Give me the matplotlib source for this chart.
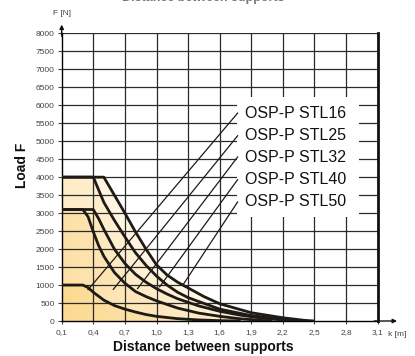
import numpy as np
import matplotlib.pyplot as plt
from matplotlib.patches import Rectangle

plt.rcParams['font.family'] = ['Liberation Sans', 'DejaVu Sans']

x_ticks = [0.1, 0.4, 0.7, 1.0, 1.3, 1.6, 1.9, 2.2, 2.5, 2.8, 3.1]
x_labels = ["0,1", "0,4", "0,7", "1,0", "1,3", "1,6", "1,9", "2,2", "2,5", "2,8", "3,1"]
y_ticks = list(range(0, 8001, 500))

names = ["OSP-P STL16", "OSP-P STL25", "OSP-P STL32", "OSP-P STL40", "OSP-P STL50"]

stl16_x = [0.1, 0.3, 0.35, 0.4, 0.5, 0.6, 0.7, 0.8, 0.9, 1.0, 1.2, 1.4, 1.6, 1.8]
stl16_y = [1000, 1000, 930, 800, 580, 430, 330, 250, 180, 130, 65, 30, 10, 0]

stl25_x = [0.1, 0.3, 0.35, 0.4, 0.45, 0.5, 0.6, 0.7, 0.8, 0.9, 1.0, 1.2, 1.4, 1.6, 1.8, 2.0, 2.1]
stl25_y = [3100, 3100, 2900, 2480, 2100, 1800, 1350, 1050, 820, 680, 560, 360, 220, 130, 60, 15, 0]

stl32_x = [0.1, 0.4, 0.45, 0.5, 0.6, 0.7, 0.8, 0.9, 1.0, 1.1, 1.2, 1.4, 1.6, 1.8, 2.0, 2.2, 2.3]
stl32_y = [3100, 3100, 2850, 2550, 2000, 1600, 1300, 1080, 900, 750, 620, 420, 270, 160, 80, 25, 0]

stl40_x = [0.1, 0.4, 0.5, 0.6, 0.7, 0.8, 0.9, 1.0, 1.1, 1.2, 1.3, 1.6, 1.9, 2.2, 2.4]
stl40_y = [4000, 4000, 3300, 2800, 2340, 1900, 1550, 1250, 1000, 800, 650, 330, 150, 50, 0]

stl50_x = [0.1, 0.5, 0.6, 0.7, 0.8, 0.9, 1.0, 1.1, 1.2, 1.3, 1.45, 1.6, 1.9, 2.2, 2.4, 2.5]
stl50_y = [4000, 4000, 3500, 3000, 2480, 2000, 1560, 1280, 1080, 920, 680, 480, 230, 90, 20, 0]

# leader line ends and label rows
leader_end_x = [0.35, 0.59, 0.82, 1.03, 1.25]
leader_end_y = [870, 880, 900, 950, 1000]
label_y = [5780, 5150, 4560, 3930, 3310]

curves = [(stl16_x, stl16_y), (stl25_x, stl25_y), (stl32_x, stl32_y),
          (stl40_x, stl40_y), (stl50_x, stl50_y)]
fills = ["#fcd98f", "#fde0a6", "#fee6b6", "#feecc6", "#fff3da"]

fig = plt.figure(figsize=(4.15, 3.56), dpi=100)
ax = fig.add_axes([0.1487, 0.0983, 0.7614, 0.8082])

# stacked fills, largest first
for (cx, cy), col in reversed(list(zip(curves, fills))):
    ax.fill_between(cx, 0, cy, color=col, lw=0, zorder=1)

# fade to the right
big = ax.fill_between(stl50_x, 0, stl50_y, color="none", lw=0)
grad = np.linspace(0, 1, 256).reshape(1, -1) ** 0.8
im = ax.imshow(np.dstack([np.ones((1, 256, 3)), grad[..., None] * 0.55]),
               extent=[0.1, 2.5, 0, 4000], aspect="auto", zorder=1.5)
im.set_clip_path(big.get_paths()[0], transform=ax.transData)
ax.set_xlim(0.1, 3.1)
ax.set_ylim(0, 8000)

for xv in x_ticks[1:]:
    ax.axvline(xv, color="#2a2a2a", lw=0.9, zorder=2)
for yv in y_ticks[1:]:
    ax.axhline(yv, color="#2a2a2a", lw=0.9, zorder=2)

# white label panel
ax.add_patch(Rectangle((1.765, 2890), 1.16, 3340, facecolor="white",
                       edgecolor="none", zorder=3))

for (cx, cy) in curves:
    ax.plot(cx, cy, color="#1e1a17", lw=2.0, zorder=5, solid_capstyle="butt")

for name, ex, ey, ly in zip(names, leader_end_x, leader_end_y, label_y):
    ax.plot([ex, 1.77], [ey, ly], color="#1e1a17", lw=0.9, zorder=4)
    ax.text(1.84, ly, name, fontsize=11.5, va="center", ha="left",
            color="#111111", zorder=6)

ax.set_xticks(x_ticks)
ax.set_xticklabels(x_labels)
ax.set_yticks(y_ticks)
ax.set_yticklabels([str(v) for v in y_ticks])
ax.tick_params(axis="both", labelsize=6, labelcolor="#444444", length=3,
               width=0.8, color="#444444", pad=2)
ax.tick_params(axis="x", length=2, pad=4)

ax.spines["top"].set_visible(False)
ax.spines["left"].set_linewidth(1.0)
ax.spines["bottom"].set_linewidth(1.0)
ax.spines["right"].set_linewidth(2.0)
ax.spines["right"].set_color("#111111")

# axis arrows
ax.annotate("", xy=(0, 1.04), xytext=(0, 0.98), xycoords="axes fraction",
            arrowprops=dict(arrowstyle="-|>", color="#111111", lw=1.0,
                            mutation_scale=6), annotation_clip=False)
ax.annotate("", xy=(1.07, 0), xytext=(0.98, 0), xycoords="axes fraction",
            arrowprops=dict(arrowstyle="-|>", color="#111111", lw=1.0,
                            mutation_scale=6), annotation_clip=False)

ax.text(0.0, 1.058, "F [N]", transform=ax.transAxes, fontsize=6,
        color="#444444", ha="center", va="bottom")
ax.text(1.032, -0.036, "k [m]", transform=ax.transAxes, fontsize=6,
        color="#444444", ha="left", va="top")

fig.text(0.053, 0.535, "Load F", rotation=90, fontsize=10, fontweight="bold",
         ha="center", va="center", color="#111111")
fig.text(0.49, 0.025, "Distance between supports", fontsize=10,
         fontweight="bold", ha="center", va="center", color="#111111")
fig.text(0.49, 0.997, "Distance between supports", fontsize=9,
         fontweight="bold", ha="center", va="baseline", color="#777777")

fig.savefig("out.png", dpi=100)
